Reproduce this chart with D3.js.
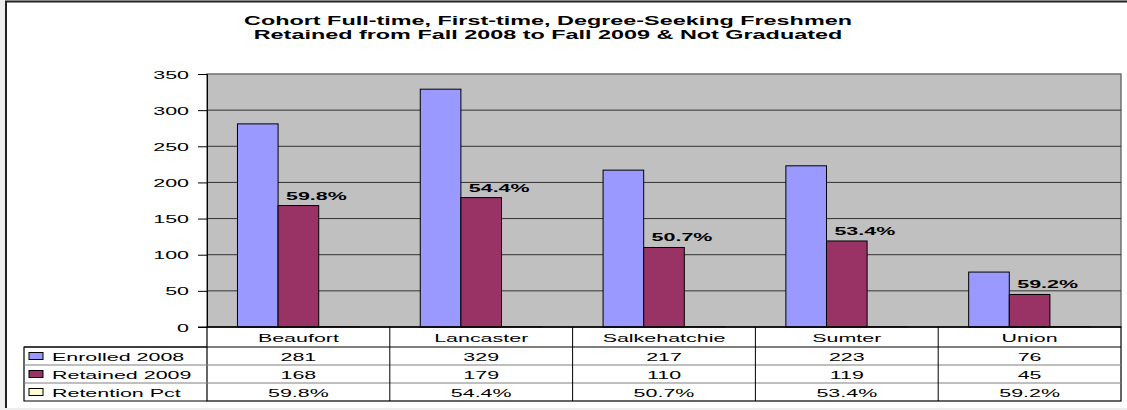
<!DOCTYPE html>
<html>
<head>
<meta charset="utf-8">
<script src="https://cdn.jsdelivr.net/npm/d3@7"></script>
<style>
  body { margin: 0; background: #ffffff; }
  svg { display: block; font-family: "Liberation Sans", Arial, sans-serif; }
</style>
</head>
<body>
<svg id="chart" width="1127" height="410"></svg>
<script>
const categories = ["Beaufort", "Lancaster", "Salkehatchie", "Sumter", "Union"];
const seriesNames = ["Enrolled 2008", "Retained 2009", "Retention Pct"];
const enrolled = [281, 329, 217, 223, 76];
const retained = [168, 179, 110, 119, 45];
const retentionPct = [0.598, 0.544, 0.507, 0.534, 0.592];
const yTicks = [0, 50, 100, 150, 200, 250, 300, 350];
const titleLines = [
  "Cohort Full-time, First-time, Degree-Seeking Freshmen",
  "Retained from Fall 2008 to Fall 2009 & Not Graduated"
];

// the picture is stretched sideways, so text is too
const SX = 1.95;
const colors = ["#9999FF", "#993366", "#FFFFCC"];
const margin = {top: 74, right: 6, bottom: 83, left: 207};
const width = 1127, height = 410;

function fmtPct(v) { return (v * 100).toFixed(1) + "%"; }

function placeText(sel, x, y) {
  sel.attr("transform", "translate(" + x + "," + y + ") scale(" + SX + ",1)");
}

const svg = d3.select("#chart");

// page + frame
svg.append("rect").attr("width", width).attr("height", height).attr("fill", "#EEEEEE");
svg.append("rect").attr("x", 6).attr("y", 1.5).attr("width", width).attr("height", 406.5).attr("fill", "#ffffff");
svg.append("path").attr("d", "M6,408V1.5H" + width).attr("fill", "none").attr("stroke", "#222").attr("stroke-width", 2);

// title
svg.selectAll(".title").data(titleLines).enter()
  .append("text")
  .attr("class", "title")
  .attr("text-anchor", "middle")
  .style("font-size", "12px")
  .style("font-weight", "bold")
  .text(d => d)
  .each(function(d, i) { placeText(d3.select(this), 548, 25 + i * 13.5); });

const plotRight = width - margin.right;
const plotBottom = height - margin.bottom;

const x = d3.scaleBand().domain(categories).range([margin.left, plotRight]).padding(0);
const xs = d3.scaleBand().domain(seriesNames).range([0, x.bandwidth()]).paddingInner(0).paddingOuter(0.75);
const y = d3.scaleLinear().domain([0, 350]).range([plotBottom, margin.top]);

// plot background
svg.append("rect")
  .attr("x", margin.left).attr("y", margin.top)
  .attr("width", plotRight - margin.left).attr("height", plotBottom - margin.top)
  .attr("fill", "#C0C0C0")
  .attr("stroke", "#707070").attr("stroke-width", 1.5);

// gridlines
svg.selectAll(".grid").data(yTicks.filter(t => t > 0 && t < 350)).enter()
  .append("line")
  .attr("class", "grid")
  .attr("x1", margin.left).attr("x2", plotRight)
  .attr("y1", d => y(d)).attr("y2", d => y(d))
  .attr("stroke", "#333").attr("stroke-width", 1);

// y axis
const yAxis = d3.axisLeft(y).tickValues(yTicks).tickSize(9);
const gy = svg.append("g")
  .attr("transform", "translate(" + margin.left + ",0)")
  .call(yAxis);
gy.select(".domain").attr("stroke", "#000");
gy.selectAll(".tick line").attr("stroke", "#000");
gy.selectAll(".tick text")
  .attr("x", null).attr("dy", null)
  .style("font-size", "11px").attr("fill", "#000")
  .each(function() { placeText(d3.select(this), -18, 4); });

// bars
const rows = categories.map((c, i) => ({
  cat: c,
  values: [enrolled[i], retained[i], retentionPct[i]]
}));

const groups = svg.selectAll(".cat").data(rows).enter()
  .append("g")
  .attr("class", "cat")
  .attr("transform", d => "translate(" + x(d.cat) + ",0)");

groups.selectAll("rect")
  .data(d => d.values.map((v, j) => ({name: seriesNames[j], value: v, j: j})))
  .enter()
  .append("rect")
  .attr("x", d => xs(d.name))
  .attr("width", xs.bandwidth())
  .attr("y", d => y(d.value))
  .attr("height", d => plotBottom - y(d.value))
  .attr("fill", d => colors[d.j])
  .attr("stroke", d => d.j == 2 ? "#444" : "#000")
  .attr("stroke-width", 1);

// percentage labels above retained bars
groups.append("text")
  .attr("text-anchor", "middle")
  .style("font-size", "11px")
  .style("font-weight", "bold")
  .text((d, i) => fmtPct(retentionPct[i]))
  .each(function(d, i) {
    placeText(d3.select(this), xs(seriesNames[1]) + xs.bandwidth() / 2 + 18, y(retained[i]) - 6);
  });

// axis line at zero
svg.append("line")
  .attr("x1", margin.left - 9).attr("x2", plotRight)
  .attr("y1", plotBottom).attr("y2", plotBottom)
  .attr("stroke", "#000").attr("stroke-width", 1.2);

// data table
const rowTop = [plotBottom, plotBottom + 20, plotBottom + 38, plotBottom + 56];
const tableBottom = plotBottom + 74;
const tableLeft = 24;
const tableRows = [enrolled, retained, retentionPct];

svg.append("rect")
  .attr("x", margin.left).attr("y", plotBottom)
  .attr("width", plotRight - margin.left).attr("height", tableBottom - plotBottom)
  .attr("fill", "none").attr("stroke", "#000").attr("stroke-width", 1.2);
svg.append("path")
  .attr("d", "M" + margin.left + "," + rowTop[1] + "H" + tableLeft + "V" + tableBottom + "H" + margin.left)
  .attr("fill", "none").attr("stroke", "#000").attr("stroke-width", 1.2);

svg.append("line")
  .attr("x1", tableLeft).attr("x2", plotRight)
  .attr("y1", rowTop[1]).attr("y2", rowTop[1])
  .attr("stroke", "#000").attr("stroke-width", 1.2);
svg.selectAll(".rowsep").data([rowTop[2], rowTop[3]]).enter()
  .append("line")
  .attr("class", "rowsep")
  .attr("x1", tableLeft).attr("x2", plotRight)
  .attr("y1", d => d).attr("y2", d => d)
  .attr("stroke", "#808080").attr("stroke-width", 1.2);

svg.selectAll(".colsep").data(categories.slice(1)).enter()
  .append("line")
  .attr("class", "colsep")
  .attr("x1", d => x(d)).attr("x2", d => x(d))
  .attr("y1", plotBottom).attr("y2", tableBottom)
  .attr("stroke", "#000").attr("stroke-width", 1);

// category names
svg.selectAll(".catlabel").data(categories).enter()
  .append("text")
  .attr("class", "catlabel")
  .attr("text-anchor", "middle")
  .style("font-size", "11px")
  .text(d => d)
  .each(function(d) { placeText(d3.select(this), x(d) + x.bandwidth() / 2, plotBottom + 15); });

// legend cells
tableRows.forEach((vals, r) => {
  const cy = rowTop[r + 1] + 9;
  svg.append("rect")
    .attr("x", 29).attr("y", cy - 3.5)
    .attr("width", 14).attr("height", 7)
    .attr("fill", colors[r]).attr("stroke", "#000").attr("stroke-width", 1);
  svg.append("text")
    .style("font-size", "11px")
    .text(seriesNames[r])
    .call(s => placeText(s, 52, cy + 4.5));
  svg.selectAll(".val" + r).data(vals).enter()
    .append("text")
    .attr("class", "val" + r)
    .attr("text-anchor", "middle")
    .style("font-size", "11px")
    .text(v => r == 2 ? fmtPct(v) : v)
    .each(function(v, i) { placeText(d3.select(this), x(categories[i]) + x.bandwidth() / 2, cy + 4.5); });
});
</script>
</body>
</html>
